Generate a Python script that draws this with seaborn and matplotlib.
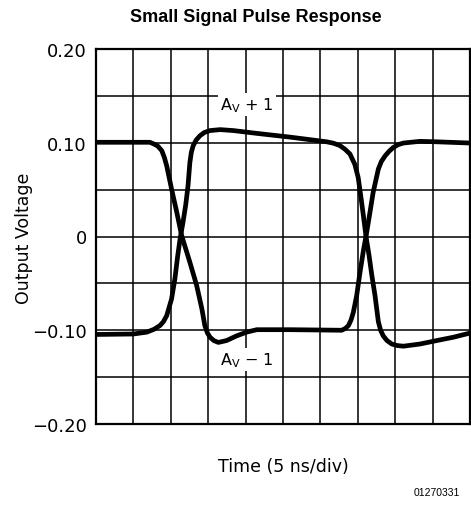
import matplotlib
matplotlib.use("Agg")
import matplotlib.pyplot as plt
import seaborn as sns

# time in divisions (5 ns/div), voltage in V
t_plus = [0, 1.0, 1.36, 1.55, 1.71, 1.80, 1.89, 2.02, 2.11, 2.18, 2.25, 2.33,
          2.40, 2.46, 2.51, 2.55, 2.60, 2.68, 2.78, 2.90, 3.05, 3.32, 3.67,
          4.30, 5.19, 6.17, 6.35, 6.52, 6.66, 6.79, 6.92, 7.01, 7.08, 7.15,
          7.22, 7.30, 7.37, 7.46, 7.55, 7.61, 7.68, 7.78, 7.91, 8.05, 8.22,
          8.66, 9.11, 9.55, 10.0]
v_plus = [-0.1045, -0.104, -0.102, -0.099, -0.095, -0.091, -0.0845, -0.0667,
          -0.045, -0.022, -0.002, 0.016, 0.034, 0.054, 0.079, 0.090, 0.097,
          0.103, 0.1075, 0.111, 0.113, 0.114, 0.113, 0.110, 0.106, 0.101,
          0.0995, 0.097, 0.093, 0.088, 0.077, 0.063, 0.043, 0.022, 0.0,
          -0.02, -0.040, -0.063, -0.091, -0.100, -0.106, -0.111, -0.1147,
          -0.1163, -0.117, -0.1147, -0.111, -0.1075, -0.103]

t_minus = [0, 1.0, 1.44, 1.53, 1.65, 1.76, 1.83, 1.89, 2.02, 2.16, 2.29, 2.51,
           2.69, 2.83, 2.91, 2.98, 3.05, 3.15, 3.27, 3.49, 3.76, 4.03, 4.30,
           5.19, 6.57, 6.67, 6.75, 6.82, 6.88, 6.97, 7.06, 7.15, 7.24, 7.33,
           7.41, 7.55, 7.63, 7.73, 7.84, 7.95, 8.08, 8.22, 8.66, 9.11, 10.0]
v_minus = [0.1005, 0.1005, 0.1005, 0.099, 0.0965, 0.0915, 0.084, 0.0755,
           0.0507, 0.0258, 0.001, -0.0275, -0.052, -0.077, -0.095, -0.103,
           -0.1075, -0.111, -0.113, -0.111, -0.106, -0.102, -0.0994, -0.0994,
           -0.1, -0.098, -0.095, -0.089, -0.081, -0.063, -0.038, -0.015,
           0.005, 0.027, 0.047, 0.072, 0.080, 0.086, 0.091, 0.095, 0.098,
           0.0997, 0.1015, 0.101, 0.0997]

y_ticks = [-0.20, -0.10, 0.0, 0.10, 0.20]
y_ticklabels = ["\u22120.20", "\u22120.10", "0", "0.10", "0.20"]
y_minor = [-0.15, -0.05, 0.05, 0.15]
x_grid = list(range(11))

sns.set_style("white")
plt.rcParams['font.family'] = ['DejaVu Sans']
plt.rcParams['text.color'] = 'black'
plt.rcParams['ytick.color'] = 'black'
plt.rcParams['xtick.color'] = 'black'

fig = plt.figure(figsize=(4.71, 5.06), dpi=100)
ax = fig.add_axes([96 / 471, 81 / 506, 374 / 471, 375 / 506])

# 曲線
sns.lineplot(x=t_plus, y=v_plus, ax=ax, color='black', lw=3.4,
             solid_capstyle='round', solid_joinstyle='round', zorder=3)
sns.lineplot(x=t_minus, y=v_minus, ax=ax, color='black', lw=3.4,
             solid_capstyle='round', solid_joinstyle='round', zorder=3)

ax.set_xlim(0, 10)
ax.set_ylim(-0.20, 0.20)
ax.set_xticks(x_grid)
ax.set_xticklabels([])
ax.set_yticks(y_ticks)
ax.set_yticklabels(y_ticklabels, fontsize=13)
ax.set_yticks(y_minor, minor=True)
ax.tick_params(axis='both', which='both', length=0, pad=6.5)
ax.grid(True, which='both', color='black', lw=1.1)
ax.set_axisbelow(True)
for s in ax.spines.values():
    s.set_color('black')
    s.set_linewidth(1.6)

ax.text(4.04, 0.141, r"A$_{\rm V}$ + 1", fontsize=11.5, ha='center', va='center',
        zorder=4, bbox=dict(facecolor='white', edgecolor='none', pad=1.5))
ax.text(4.04, -0.131, r"A$_{\rm V}$ $-$ 1", fontsize=11.5, ha='center', va='center',
        zorder=4, bbox=dict(facecolor='white', edgecolor='none', pad=1.5))

fig.text(256 / 471, 1 - 18 / 506, "Small Signal Pulse Response",
         family='Liberation Sans', weight='bold', fontsize=13,
         ha='center', va='center')
fig.text(24 / 471, 1 - 238 / 506, "Output Voltage", rotation=90,
         fontsize=12.5, ha='center', va='center')
fig.text(283 / 471, 1 - 467 / 506, "Time (5 ns/div)",
         fontsize=12.5, ha='center', va='center')
fig.text(460 / 471, 1 - 493 / 506, "01270331", family='Liberation Sans',
         fontsize=7.5, ha='right', va='center')

fig.savefig("out.png", dpi=100)
